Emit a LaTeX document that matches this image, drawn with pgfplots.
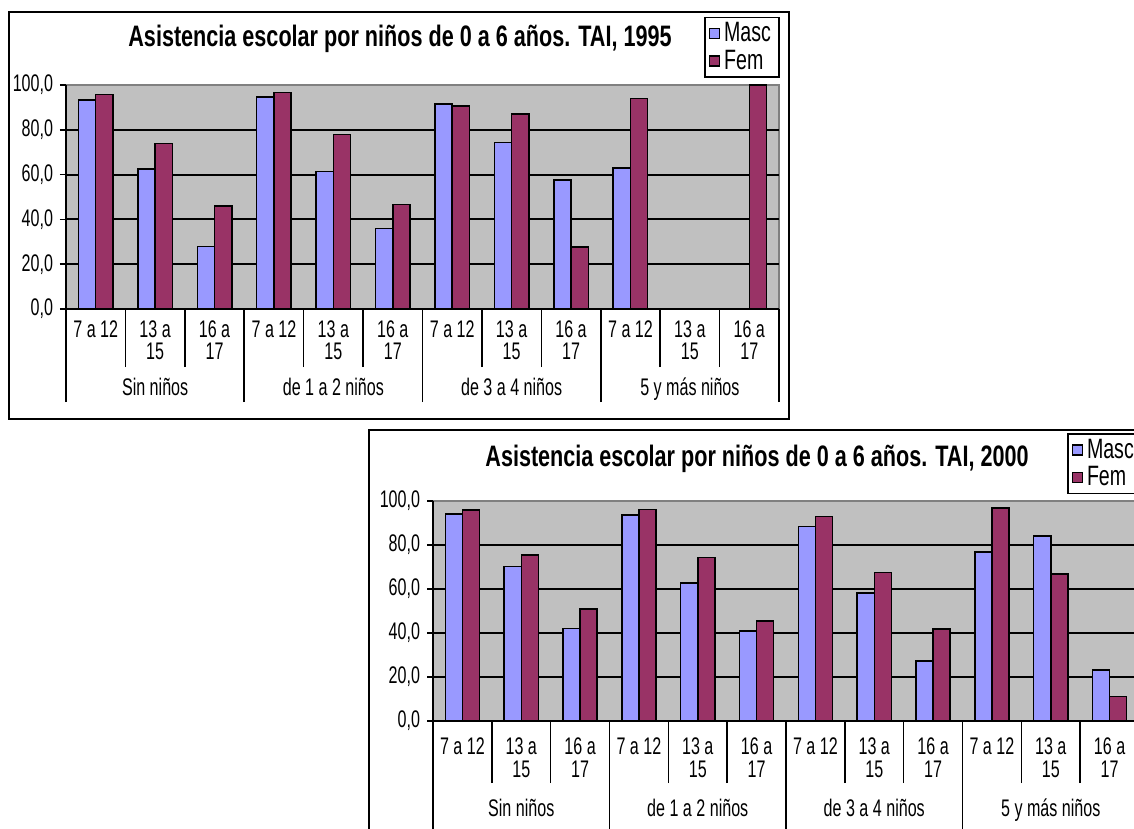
\documentclass[border=0pt]{standalone}
\usepackage{fontspec}
\setmainfont{Liberation Sans}[FakeStretch=0.73]
\newfontfamily\lblfont{Liberation Sans}[FakeStretch=0.67]
\newfontfamily\legfont{Liberation Sans}[FakeStretch=0.70]
\usepackage{pgfplots}
\pgfplotsset{compat=1.18}
\definecolor{masc}{RGB}{153,153,255}
\definecolor{fem}{RGB}{153,51,102}
\definecolor{plotbg}{RGB}{192,192,192}
\definecolor{borderg}{RGB}{128,128,128}
\tikzset{grp/.style={anchor=base, font=\lblfont\fontsize{12}{12}\selectfont}}
\pgfplotsset{
  mychart/.style={
    scale only axis,
    anchor=south west,
    clip=false,
    xmin=0.5, xmax=12.5, ymin=0, ymax=100,
    axis x line*=bottom, axis y line*=left,
    axis line style={black, line width=1pt},
    axis background/.style={fill=plotbg, draw=borderg, line width=1pt},
    tick align=outside,
    major tick length=3pt,
    tick style={black, line width=0.8pt},
    ytick={0,20,40,60,80,100},
    yticklabels={{0,0},{20,0},{40,0},{60,0},{80,0},{100,0}},
    yticklabel style={font=\lblfont\fontsize{12}{12}\selectfont, inner sep=0pt, anchor=east},
    yticklabel shift=3.3pt,
    extra y ticks={20,40,60,80},
    extra y tick labels={},
    extra y tick style={grid=major, major grid style={black, line width=1pt}},
    xtick={1,...,12},
    xticklabels={{7 a 12},{13 a\\15},{16 a\\17},{7 a 12},{13 a\\15},{16 a\\17},{7 a 12},{13 a\\15},{16 a\\17},{7 a 12},{13 a\\15},{16 a\\17}},
    xtick style={draw=none},
    xticklabel style={inner sep=0pt, anchor=north, align=center},
    extra x ticks={0.5,1.5,...,12.5},
    extra x tick labels={},
    extra x tick style={xtick style={draw=black, line width=0.8pt}},
    minor xtick={0.5,3.5,6.5,9.5,12.5},
    minor x tick style={draw=black, line width=0.8pt},
    legend style={draw=black, line width=0.8pt, font=\legfont\fontsize{14}{14}\selectfont,
      inner xsep=2pt, inner ysep=0.5pt, row sep=-1.5pt, cells={anchor=west}},
  },
  mbar/.style={ybar, bar width=0.29, bar shift=-0.145, fill=masc, draw=black, line width=0.75pt,
    legend image code/.code={\draw[fill=masc, draw=black, line width=0.6pt] (0pt,-2.5pt) rectangle (5pt,2.5pt);}},
  fbar/.style={ybar, bar width=0.29, bar shift=0.145, fill=fem, draw=black, line width=0.75pt,
    legend image code/.code={\draw[fill=fem, draw=black, line width=0.6pt] (0pt,-2.5pt) rectangle (5pt,2.5pt);}},
}
\begin{document}
\begin{tikzpicture}
\path[use as bounding box] (0pt,0pt) rectangle (567pt,414.5pt);
\clip (0pt,0pt) rectangle (567pt,414.5pt);
\fill[white] (0pt,0pt) rectangle (567pt,414.5pt);
% ---------- Chart 1995 ----------
\draw[black, line width=1.2pt] (4.5pt,408.5pt) rectangle (394.5pt,205pt);
\node[anchor=base, font=\fontsize{14.8}{15}\selectfont\bfseries] at (200pt,391pt) {Asistencia escolar por niños de 0 a 6 años. TAI, 1995};
\begin{axis}[mychart,
  at={(33pt,260pt)}, width=356.5pt, height=112pt,
  xticklabel style={font=\lblfont\fontsize{12}{11}\selectfont},
  xticklabel shift=2.9pt,
  extra x tick style={major tick length=29pt},
  minor tick length=46.5pt,
  legend style={at={(0.895,1.304)}, anchor=north west},
]
\addplot[mbar] coordinates {(1,93.3) (2,62.6) (3,28.0) (4,94.6) (5,61.3) (6,35.9) (7,91.6) (8,74.4) (9,57.6) (10,62.9)};
\addlegendentry{Masc}
\addplot[fbar] coordinates {(1,95.8) (2,73.9) (3,45.9) (4,96.6) (5,77.9) (6,46.6) (7,90.6) (8,87.1) (9,27.7) (10,94.0) (12,100.0)};
\addlegendentry{Fem}
\node[grp, yshift=-43.5pt] at (axis cs:2,0) {Sin niños};
\node[grp, yshift=-43.5pt] at (axis cs:5,0) {de 1 a 2 niños};
\node[grp, yshift=-43.5pt] at (axis cs:8,0) {de 3 a 4 niños};
\node[grp, yshift=-43.5pt] at (axis cs:11,0) {5 y más niños};
\end{axis}
% ---------- Chart 2000 ----------
\draw[black, line width=1.2pt] (184.5pt,199.5pt) rectangle (620pt,-30pt);
\node[anchor=base, font=\fontsize{14.8}{15}\selectfont\bfseries] at (378.5pt,181pt) {Asistencia escolar por niños de 0 a 6 años. TAI, 2000};
\begin{axis}[mychart,
  at={(216.5pt,54pt)}, width=353pt, height=110pt,
  xticklabel style={font=\lblfont\fontsize{12}{11.5}\selectfont},
  xticklabel shift=5.4pt,
  extra x tick style={major tick length=31pt},
  minor tick length=60pt,
  legend style={at={(0.898,1.309)}, anchor=north west},
]
\addplot[mbar] coordinates {(1,94.1) (2,70.2) (3,42.0) (4,93.6) (5,62.7) (6,40.8) (7,88.3) (8,58.2) (9,27.3) (10,76.8) (11,84.2) (12,23.2)};
\addlegendentry{Masc}
\addplot[fbar] coordinates {(1,95.8) (2,75.5) (3,50.8) (4,96.2) (5,74.4) (6,45.5) (7,92.9) (8,67.4) (9,41.8) (10,96.8) (11,66.8) (12,11.2)};
\addlegendentry{Fem}
\node[grp, yshift=-47.5pt] at (axis cs:2,0) {Sin niños};
\node[grp, yshift=-47.5pt] at (axis cs:5,0) {de 1 a 2 niños};
\node[grp, yshift=-47.5pt] at (axis cs:8,0) {de 3 a 4 niños};
\node[grp, yshift=-47.5pt] at (axis cs:11,0) {5 y más niños};
\end{axis}
\end{tikzpicture}
\end{document}
